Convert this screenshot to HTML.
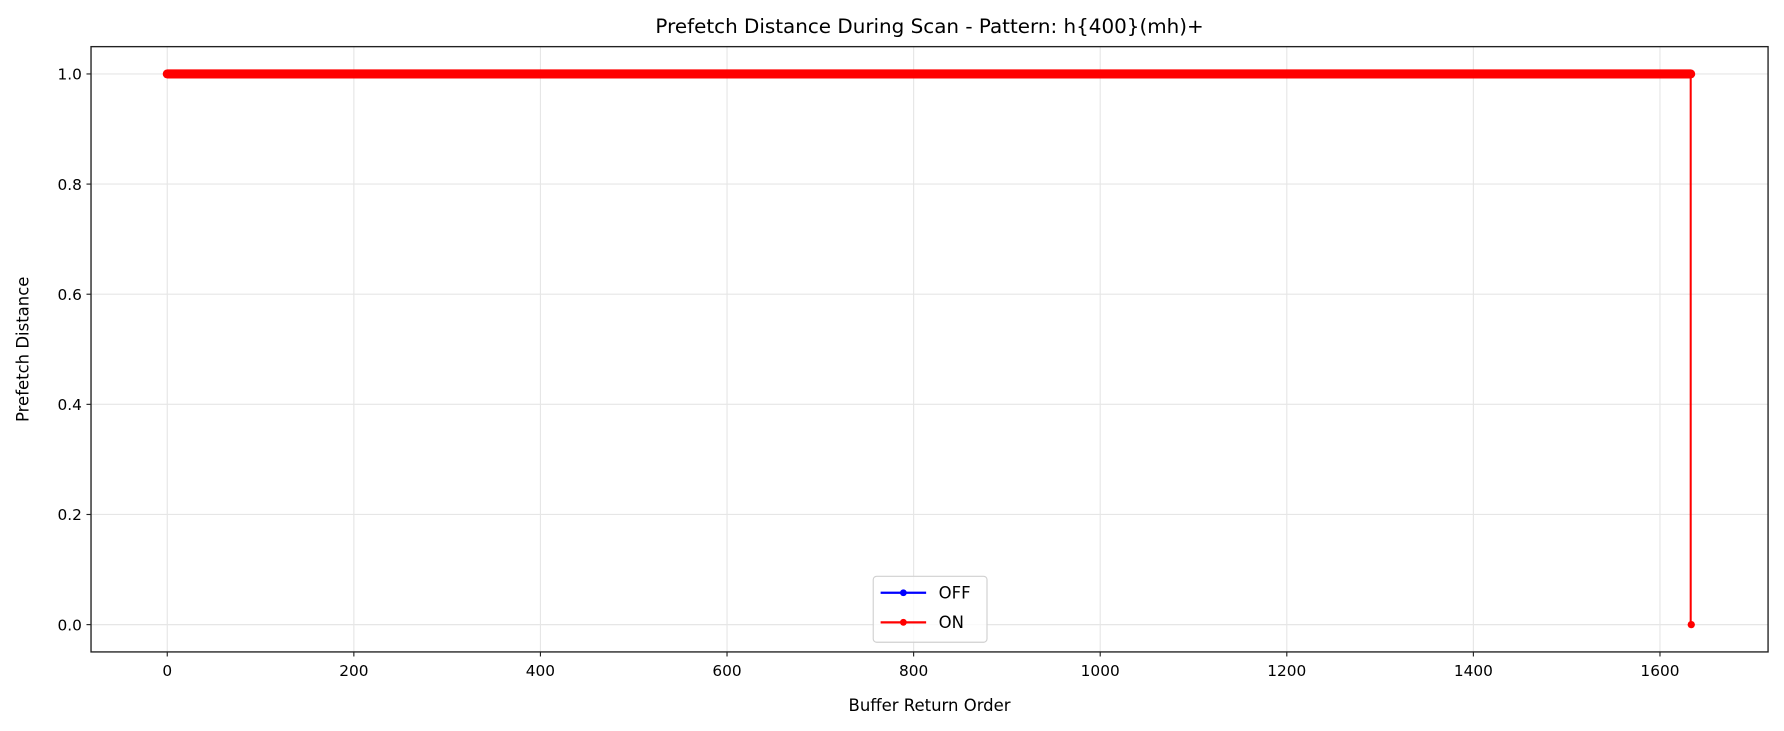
<!DOCTYPE html>
<html><head><meta charset="utf-8"><style>
html,body{margin:0;padding:0;background:#fff;}
svg{display:block;}
text{font-family:"DejaVu Sans","Liberation Sans",sans-serif;fill:#000;}
</style></head><body>
<svg width="1784" height="731" viewBox="0 0 1568 642.5" xmlns="http://www.w3.org/2000/svg">
<rect width="1568" height="642.5" fill="#fff"/>
<g stroke="#e6e6e6" stroke-width="1">
<line x1="147" y1="41" x2="147" y2="573"/><line x1="311" y1="41" x2="311" y2="573"/>
<line x1="475" y1="41" x2="475" y2="573"/><line x1="639" y1="41" x2="639" y2="573"/>
<line x1="803" y1="41" x2="803" y2="573"/><line x1="967" y1="41" x2="967" y2="573"/>
<line x1="1131" y1="41" x2="1131" y2="573"/><line x1="1295" y1="41" x2="1295" y2="573"/>
<line x1="1459" y1="41" x2="1459" y2="573"/>
<line x1="80" y1="549" x2="1554" y2="549"/><line x1="80" y1="452.2" x2="1554" y2="452.2"/>
<line x1="80" y1="355.4" x2="1554" y2="355.4"/><line x1="80" y1="258.6" x2="1554" y2="258.6"/>
<line x1="80" y1="161.8" x2="1554" y2="161.8"/><line x1="80" y1="65" x2="1554" y2="65"/>
</g>
<line x1="147" y1="65" x2="1486" y2="65" stroke="#ff0000" stroke-width="8" stroke-linecap="round"/>
<line x1="1486" y1="65" x2="1486" y2="549" stroke="#ff0000" stroke-width="1.8"/>
<circle cx="1486.5" cy="549" r="3.2" fill="#ff0000"/>
<rect x="80" y="41" width="1474" height="532" fill="none" stroke="#222" stroke-width="1.2"/>
<g stroke="#222" stroke-width="1">
<line x1="147" y1="573" x2="147" y2="577"/><line x1="311" y1="573" x2="311" y2="577"/>
<line x1="475" y1="573" x2="475" y2="577"/><line x1="639" y1="573" x2="639" y2="577"/>
<line x1="803" y1="573" x2="803" y2="577"/><line x1="967" y1="573" x2="967" y2="577"/>
<line x1="1131" y1="573" x2="1131" y2="577"/><line x1="1295" y1="573" x2="1295" y2="577"/>
<line x1="1459" y1="573" x2="1459" y2="577"/>
<line x1="76" y1="549" x2="80" y2="549"/><line x1="76" y1="452.2" x2="80" y2="452.2"/>
<line x1="76" y1="355.4" x2="80" y2="355.4"/><line x1="76" y1="258.6" x2="80" y2="258.6"/>
<line x1="76" y1="161.8" x2="80" y2="161.8"/><line x1="76" y1="65" x2="80" y2="65"/>
</g>
<g font-size="13.5" text-anchor="middle">
<text x="147" y="594">0</text><text x="311" y="594">200</text><text x="475" y="594">400</text>
<text x="639" y="594">600</text><text x="803" y="594">800</text><text x="967" y="594">1000</text>
<text x="1131" y="594">1200</text><text x="1295" y="594">1400</text><text x="1459" y="594">1600</text>
</g>
<g font-size="13.5" text-anchor="end">
<text x="72" y="554">0.0</text><text x="72" y="457.2">0.2</text><text x="72" y="360.4">0.4</text>
<text x="72" y="263.6">0.6</text><text x="72" y="166.8">0.8</text><text x="72" y="70">1.0</text>
</g>
<text x="817" y="625" font-size="14.5" text-anchor="middle">Buffer Return Order</text>
<text transform="translate(25,307) rotate(-90)" font-size="14.5" text-anchor="middle">Prefetch Distance</text>
<text x="817" y="29" font-size="17.5" text-anchor="middle">Prefetch Distance During Scan - Pattern: h{400}(mh)+</text>
<rect x="767.5" y="506.5" width="100" height="58" rx="3" fill="#fff" fill-opacity="0.8" stroke="#d0d0d0" stroke-width="1"/>
<line x1="774" y1="521" x2="814" y2="521" stroke="#0000ff" stroke-width="2"/>
<circle cx="794" cy="521" r="3" fill="#0000ff"/>
<text x="825" y="526" font-size="14.5">OFF</text>
<line x1="774" y1="547" x2="814" y2="547" stroke="#ff0000" stroke-width="2"/>
<circle cx="794" cy="547" r="3" fill="#ff0000"/>
<text x="825" y="552" font-size="14.5">ON</text>
</svg>
</body></html>
